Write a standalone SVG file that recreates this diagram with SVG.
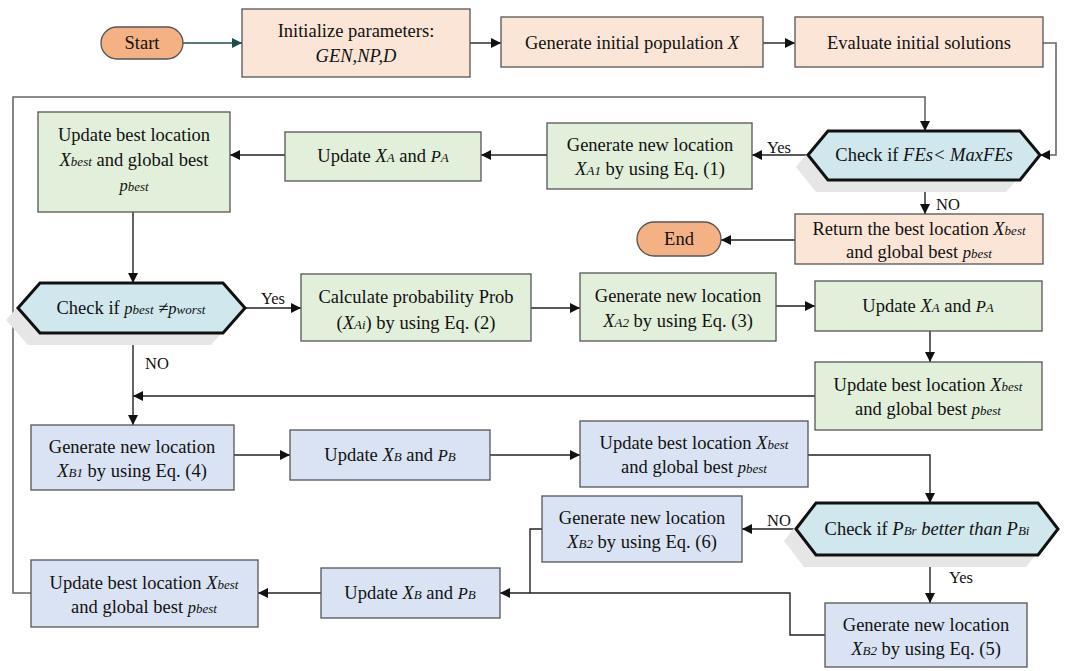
<svg xmlns="http://www.w3.org/2000/svg" width="1066" height="671" viewBox="0 0 1066 671" font-family="'Liberation Serif', 'DejaVu Serif', serif">
<defs>
<marker id="ah" viewBox="0 0 10 10" refX="10" refY="5" markerWidth="10" markerHeight="10" markerUnits="userSpaceOnUse" orient="auto"><path d="M0,0 L10,5 L0,10 z" fill="#111"/></marker>
<marker id="aht" viewBox="0 0 10 10" refX="10" refY="5" markerWidth="10" markerHeight="10" markerUnits="userSpaceOnUse" orient="auto"><path d="M0,0 L10,5 L0,10 z" fill="#1e4d4d"/></marker>
</defs>
<style>
text{font-family:'Liberation Serif','DejaVu Serif',serif;font-size:18.5px;fill:#111;text-anchor:middle}
.i{font-style:italic}
.s{font-style:italic;font-size:13px}
.m{font-style:italic;font-size:16.5px}
.peach{fill:#fbe5d6;stroke:#555;stroke-width:1.3}
.green{fill:#e2efda;stroke:#555;stroke-width:1.3}
.blue{fill:#dae3f3;stroke:#555;stroke-width:1.3}
.term{fill:#f4b183;stroke:#555;stroke-width:1.3}
.hex{fill:#cfe7ed;stroke:#111;stroke-width:3;stroke-linejoin:miter}
.shadow{fill:#e6e6e6}
.c{fill:none;stroke:#222;stroke-width:1.4}
.g{fill:none;stroke:#666;stroke-width:1.6}
.lbl{font-size:16.5px}
</style>
<rect width="1066" height="671" fill="#fff"/>

<g id="connectors">
<path class="c" d="M183,43 H242" style="stroke:#1e4d4d" marker-end="url(#aht)"/>
<path class="c" d="M470,43 H501" marker-end="url(#ah)"/>
<path class="c" d="M763,43 H795" marker-end="url(#ah)"/>
<path class="g" d="M1043,43 H1056 V155 H1040" marker-end="url(#ah)"/>
<path class="g" d="M31,593 H13 V97 H925 V131" marker-end="url(#ah)"/>
<path class="c" d="M808,155 H752" marker-end="url(#ah)"/>
<path class="c" d="M925,180 V214" marker-end="url(#ah)"/>
<path class="c" d="M795,240 H721" marker-end="url(#ah)"/>
<path class="c" d="M547,155 H481" marker-end="url(#ah)"/>
<path class="c" d="M285,155 H230" marker-end="url(#ah)"/>
<path class="c" d="M133,212 V283" marker-end="url(#ah)"/>
<path class="c" d="M245,308 H301" marker-end="url(#ah)"/>
<path class="c" d="M531,308 H580" marker-end="url(#ah)"/>
<path class="c" d="M776,306 H815" marker-end="url(#ah)"/>
<path class="c" d="M930,331 V362" marker-end="url(#ah)"/>
<path class="c" d="M815,396 H133" marker-end="url(#ah)"/>
<path class="c" d="M133,333 V425" marker-end="url(#ah)"/>
<path class="c" d="M234,455 H290" marker-end="url(#ah)"/>
<path class="c" d="M490,455 H580" marker-end="url(#ah)"/>
<path class="c" d="M808,455 H930 V503" marker-end="url(#ah)"/>
<path class="c" d="M796,529 H742" marker-end="url(#ah)"/>
<path class="c" d="M930,555 V603" marker-end="url(#ah)"/>
<path class="c" d="M542,529 H530 V593"/>
<path class="c" d="M825,635 H790 V593 H500" marker-end="url(#ah)"/>
<path class="c" d="M321,593 H258" marker-end="url(#ah)"/>
<text class="lbl" x="779" y="153">Yes</text>
<text class="lbl" x="948" y="210">NO</text>
<text class="lbl" x="273" y="304">Yes</text>
<text class="lbl" x="157" y="369">NO</text>
<text class="lbl" x="779" y="526">NO</text>
<text class="lbl" x="961" y="583">Yes</text>
</g>

<g id="start"><rect class="term" x="101" y="27" width="82" height="32" rx="16"/><text x="142" y="49">Start</text></g>
<g id="init"><rect class="peach" x="242" y="9" width="228" height="68"/><text x="356" y="37">Initialize parameters:</text><text class="i" x="356" y="62">GEN,NP,D</text></g>
<g id="genpop"><rect class="peach" x="501" y="17" width="262" height="50"/><text x="632" y="49">Generate initial population <tspan class="i">X</tspan></text></g>
<g id="evaluate"><rect class="peach" x="795" y="17" width="248" height="50"/><text x="919" y="49">Evaluate initial solutions</text></g>

<g id="check1"><path class="shadow" d="M796,167 L816,143 L1006,143 L1028,167 L1006,192 L816,192 z"/><path class="hex" d="M808,155 L828,131 L1020,131 L1040,155 L1020,180 L828,180 z"/><text x="924" y="161">Check if <tspan class="i">FEs&lt; MaxFEs</tspan></text></g>
<g id="return"><rect class="peach" x="795" y="214" width="248" height="50"/><text x="919" y="235">Return the  best location <tspan class="i">X</tspan><tspan class="s">best</tspan></text><text x="919" y="258">and global best <tspan class="m">p</tspan><tspan class="s">best</tspan></text></g>
<g id="end"><rect class="term" x="637" y="222" width="84" height="34" rx="17"/><text x="679" y="245">End</text></g>

<g id="genXA1"><rect class="green" x="547" y="123" width="205" height="66"/><text x="650" y="151">Generate new location</text><text x="650" y="175"><tspan class="i">X</tspan><tspan class="s">A1</tspan> by using Eq. (1)</text></g>
<g id="updXA1"><rect class="green" x="285" y="132" width="196" height="49"/><text x="383" y="162">Update <tspan class="i">X</tspan><tspan class="s">A</tspan> and  <tspan class="m">P</tspan><tspan class="s">A</tspan></text></g>
<g id="best1"><rect class="green" x="38" y="112" width="192" height="100"/><text x="134" y="141">Update best location</text><text x="134" y="166"><tspan class="i">X</tspan><tspan class="s">best</tspan> and global best</text><text x="134" y="191"><tspan class="m">p</tspan><tspan class="s">best</tspan></text></g>

<g id="check2"><path class="shadow" d="M6,320 L28,295 L211,295 L233,320 L211,345 L28,345 z"/><path class="hex" d="M18,308 L40,283 L223,283 L245,308 L223,333 L40,333 z"/><text x="131" y="314">Check if   <tspan class="m">p</tspan><tspan class="s">best</tspan> ≠<tspan class="m">p</tspan><tspan class="s">worst</tspan></text></g>
<g id="calcprob"><rect class="green" x="301" y="274" width="230" height="67"/><text x="416" y="303">Calculate probability Prob</text><text x="416" y="329">(<tspan class="i">X</tspan><tspan class="s">Ai</tspan>) by using Eq. (2)</text></g>
<g id="genXA2"><rect class="green" x="580" y="273" width="196" height="68"/><text x="678" y="302">Generate new location</text><text x="678" y="327"><tspan class="i">X</tspan><tspan class="s">A2</tspan> by using Eq. (3)</text></g>
<g id="updXA2"><rect class="green" x="815" y="281" width="227" height="50"/><text x="928" y="312">Update <tspan class="i">X</tspan><tspan class="s">A</tspan> and  <tspan class="m">P</tspan><tspan class="s">A</tspan></text></g>
<g id="best2"><rect class="green" x="815" y="362" width="227" height="68"/><text x="928" y="391">Update best location <tspan class="i">X</tspan><tspan class="s">best</tspan></text><text x="928" y="415">and global best <tspan class="m">p</tspan><tspan class="s">best</tspan></text></g>

<g id="genXB1"><rect class="blue" x="31" y="425" width="203" height="65"/><text x="132" y="453">Generate new location</text><text x="132" y="477"><tspan class="i">X</tspan><tspan class="s">B1</tspan> by using Eq. (4)</text></g>
<g id="updXB1"><rect class="blue" x="290" y="430" width="200" height="50"/><text x="390" y="461">Update <tspan class="i">X</tspan><tspan class="s">B</tspan> and  <tspan class="m">P</tspan><tspan class="s">B</tspan></text></g>
<g id="best3"><rect class="blue" x="580" y="421" width="228" height="66"/><text x="694" y="449">Update best location <tspan class="i">X</tspan><tspan class="s">best</tspan></text><text x="694" y="473">and global best <tspan class="m">p</tspan><tspan class="s">best</tspan></text></g>

<g id="check3"><path class="shadow" d="M784,541 L804,515 L1026,515 L1046,541 L1026,567 L804,567 z"/><path class="hex" d="M796,529 L816,503 L1038,503 L1058,529 L1038,555 L816,555 z"/><text x="927" y="535">Check if  <tspan class="i">P</tspan><tspan class="s">Br</tspan><tspan class="i"> better than P</tspan><tspan class="s">Bi</tspan></text></g>
<g id="genXB2b"><rect class="blue" x="542" y="496" width="200" height="66"/><text x="642" y="524">Generate new location</text><text x="642" y="548"><tspan class="i">X</tspan><tspan class="s">B2</tspan> by using Eq. (6)</text></g>
<g id="genXB2a"><rect class="blue" x="825" y="603" width="202" height="64"/><text x="926" y="631">Generate new location</text><text x="926" y="655"><tspan class="i">X</tspan><tspan class="s">B2</tspan> by using Eq. (5)</text></g>
<g id="updXB2"><rect class="blue" x="321" y="568" width="179" height="50"/><text x="410" y="599">Update <tspan class="i">X</tspan><tspan class="s">B</tspan> and  <tspan class="m">P</tspan><tspan class="s">B</tspan></text></g>
<g id="best4"><rect class="blue" x="31" y="560" width="227" height="67"/><text x="144" y="589">Update best location <tspan class="i">X</tspan><tspan class="s">best</tspan></text><text x="144" y="613">and global best <tspan class="m">p</tspan><tspan class="s">best</tspan></text></g>
</svg>
